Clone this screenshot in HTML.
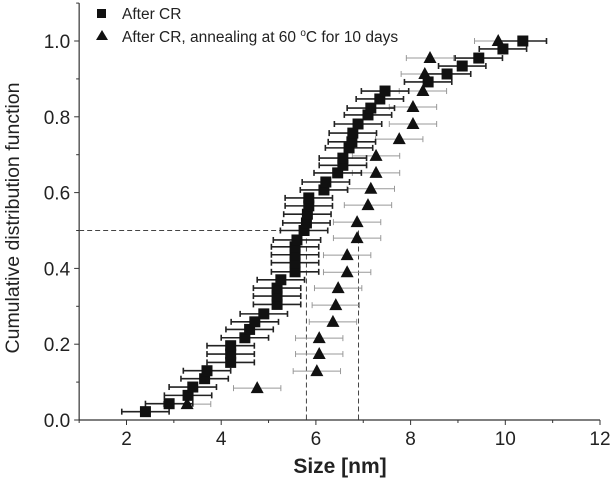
<!DOCTYPE html>
<html><head><meta charset="utf-8"><style>
body{margin:0;background:#fff;}
svg{display:block;font-family:"Liberation Sans",sans-serif;}
</style></head><body>
<svg id="chart" width="612" height="485" viewBox="0 0 612 485">
<g id="axes"></g>
<g id="marks"></g>
<g>
  <rect x="97" y="9" width="9" height="9" fill="#111"/>
  <text x="122" y="19" font-size="15.5" fill="#222">After CR</text>
  <polygon points="102,30 96,40 108,40" fill="#111"/>
  <text x="122" y="42" font-size="15.5" fill="#222">After CR, annealing at 60 <tspan font-size="10" dy="-6">o</tspan><tspan dy="6">C for 10 days</tspan></text>
</g>
<text x="340" y="473" font-size="21" font-weight="bold" text-anchor="middle" fill="#222">Size [nm]</text>
<text transform="translate(19,218) rotate(-90)" font-size="19.5" text-anchor="middle" fill="#222">Cumulative distribution function</text>
</svg>
<script>
const xTicks=[2,4,6,8,10,12];
const yTicks=[0,0.2,0.4,0.6,0.8,1.0];
const yTickLabels=["0.0","0.2","0.4","0.6","0.8","1.0"];
const sqSize=[2.4,2.9,3.3,3.4,3.65,3.7,4.2,4.2,4.2,4.5,4.6,4.71,4.9,5.18,5.18,5.18,5.26,5.56,5.56,5.56,5.56,5.6,5.75,5.8,5.82,5.85,5.85,6.17,6.21,6.46,6.57,6.57,6.7,6.76,6.78,6.89,7.1,7.16,7.35,7.46,8.37,8.77,9.09,9.44,9.95,10.37];
const sqCdf=[0.022,0.043,0.065,0.087,0.109,0.13,0.152,0.174,0.196,0.217,0.239,0.259,0.28,0.305,0.327,0.348,0.37,0.391,0.415,0.436,0.457,0.475,0.5,0.52,0.543,0.565,0.586,0.607,0.628,0.652,0.672,0.691,0.718,0.734,0.757,0.781,0.805,0.823,0.847,0.868,0.892,0.913,0.934,0.955,0.979,1.0];
const sqErr=0.5;
const triSize=[3.28,4.76,6.02,6.07,6.07,6.36,6.42,6.47,6.66,6.66,6.87,6.87,7.1,7.16,7.27,7.27,7.76,8.05,8.05,8.26,8.3,8.41,9.85];
const triCdf=[0.042,0.084,0.129,0.174,0.216,0.259,0.303,0.348,0.39,0.435,0.48,0.522,0.567,0.61,0.652,0.697,0.741,0.781,0.826,0.868,0.913,0.955,1.0];
const triErr=0.5;
const medians=[5.8,6.9];
const medianLevel=0.5;

const X=v=>126.5+(v-2)*47.35;
const Y=c=>420-c*379;
const NS='http://www.w3.org/2000/svg';
function mk(tag,attrs,parent){const e=document.createElementNS(NS,tag);for(const k in attrs)e.setAttribute(k,attrs[k]);parent.appendChild(e);return e;}
const axes=document.getElementById('axes'),marks=document.getElementById('marks');
const x0=X(1),x1=X(12),y0=Y(0),y1=Y(1.1);
let l=mk('line',{x1:x0,y1:y0,x2:x1,y2:y0,stroke:'#333','stroke-width':1.2},axes);


l=mk('line',{x1:x0,y1:y0,x2:x0,y2:y1,stroke:'#333','stroke-width':1.2},axes);


for(let v=1;v<=12;v++){const t=mk('line',{x1:X(v),y1:y0,x2:X(v),y2:y0+(v%2==0?5:3),stroke:'#333'},axes);

}
xTicks.forEach(v=>{const t=mk('text',{x:X(v),y:y0+25,'font-size':19,'text-anchor':'middle',fill:'#222'},axes);t.textContent=v;

});
for(let i=0;i<=11;i++){const c=i*0.1;const t=mk('line',{x1:x0,y1:Y(c),x2:x0-(i%2==0?5:3),y2:Y(c),stroke:'#333'},axes);

}
yTicks.forEach((c,i)=>{const t=mk('text',{x:x0-9,y:Y(c)+7,'font-size':19,'text-anchor':'end',fill:'#222'},axes);t.textContent=yTickLabels[i];

});
let d=mk('line',{x1:x0,y1:Y(medianLevel),x2:X(medians[0]),y2:Y(medianLevel),stroke:'#444','stroke-dasharray':'5,3'},marks);


medians.forEach(m=>{const e=mk('line',{x1:X(m),y1:Y(medianLevel),x2:X(m),y2:y0,stroke:'#444','stroke-dasharray':'5,3'},marks);

});
function errbar(x,c,err,color,w,name){const g=mk('g',{stroke:color,'stroke-width':w},marks);


const y=Y(c);mk('line',{x1:X(x-err),y1:y,x2:X(x+err),y2:y},g);
mk('line',{x1:X(x-err),y1:y-3,x2:X(x-err),y2:y+3},g);mk('line',{x1:X(x+err),y1:y-3,x2:X(x+err),y2:y+3},g);}
triSize.forEach((s,i)=>errbar(s,triCdf[i],triErr,'#999',1,'triangle-error-bar'));
sqSize.forEach((s,i)=>errbar(s,sqCdf[i],sqErr,'#222',1.6,'square-error-bar'));
triSize.forEach((s,i)=>{const x=X(s),y=Y(triCdf[i]);const p=mk('polygon',{points:`${x},${y-7} ${x-6.5},${y+5} ${x+6.5},${y+5}`,fill:'#111'},marks);

});
sqSize.forEach((s,i)=>{const r=mk('rect',{x:X(s)-5.5,y:Y(sqCdf[i])-5.5,width:11,height:11,fill:'#111'},marks);

});
</script>
</body></html>
